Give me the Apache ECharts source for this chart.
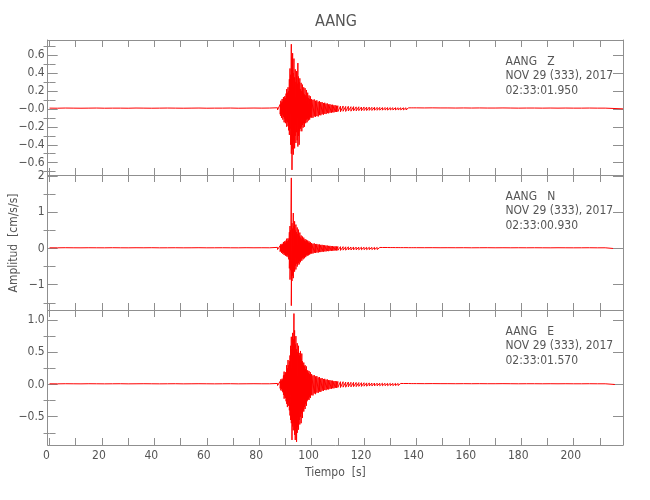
<!DOCTYPE html>
<html>
<head>
<meta charset="utf-8">
<script src="https://cdn.jsdelivr.net/npm/echarts@6/dist/echarts.min.js"></script>
<style>html,body{margin:0;padding:0;background:#fff}#c{width:650px;height:500px}</style>
</head>
<body>
<div id="c"></div>
<script>
// ---------- data (peak max / min per time bin) ----------
const stationTitle = 'AANG';
const compLabels = ['AANG   Z', 'AANG   N', 'AANG   E'];
const dateLabel = 'NOV 29 (333), 2017';
const startTimes = ['02:33:01.950', '02:33:00.930', '02:33:01.570'];
const traceEnd = [218.8, 215.0, 215.7];

const xTickLabels = [0, 20, 40, 60, 80, 100, 120, 140, 160, 180, 200];
const xTickMarks = [0, 10, 20, 30, 40, 50, 60, 70, 80, 90, 100, 110, 120, 130, 140, 150, 160, 170, 180, 190, 200, 210];

const zTicks = [-0.6, -0.4, -0.2, 0, 0.2, 0.4, 0.6];
const zTickText = ['\u22120.6', '\u22120.4', '\u22120.2', '\u22120.0', '0.2', '0.4', '0.6'];
const zMinor = [-0.7, -0.5, -0.3, -0.1, 0.1, 0.3, 0.5, 0.7];
const nTicks = [-1, 0, 1, 2];
const nTickText = ['\u22121', '0', '1', '2'];
const nMinor = [-1.5, -0.5, 0.5, 1.5];
const eTicks = [-0.5, 0, 0.5, 1.0];
const eTickText = ['\u22120.5', '0.0', '0.5', '1.0'];
const eMinor = [-0.75, -0.25, 0.25, 0.75];

const tPre = [0, 3, 6, 9, 12, 15, 18, 21, 24, 27, 30, 33, 36, 39, 42, 45, 48, 51, 54, 57, 60, 63, 66, 69, 72, 75, 78, 81, 84, 87];
const tEvent = [88.0, 88.25, 88.5, 88.75, 89.0, 89.25, 89.5, 89.75, 90.0, 90.25, 90.5, 90.75,
  91.0, 91.25, 91.5, 91.75, 92.0, 92.25, 92.5, 92.75, 93.0, 93.25, 93.5, 93.75,
  94.0, 94.25, 94.5, 94.75, 95.0, 95.25, 95.5, 95.75, 96.0, 96.25, 96.5, 96.75,
  97.0, 97.25, 97.5, 97.75, 98.0, 98.25, 98.5, 98.75, 99.0, 99.25, 99.5, 99.75];
const tCoda1 = [100, 100.5, 101, 101.5, 102, 102.5, 103, 103.5, 104, 104.5, 105, 105.5, 106, 106.5, 107, 107.5, 108, 108.5, 109, 109.5];
const tCoda2 = [110, 111, 112, 113, 114, 115, 116, 117, 118, 119, 120, 121, 122, 123, 124, 125, 126, 127, 128, 129, 130, 131, 132, 133, 134, 135, 136, 137, 138, 139];
const tTail = [140, 143, 146, 149, 152, 155, 158, 161, 164, 167, 170, 173, 176, 179, 182, 185, 188, 191, 194, 197, 200, 203, 206, 209, 212];

// Z component
const zPreHi = [0.008, 0.007, 0.009, 0.008, 0.007, 0.008, 0.009, 0.007, 0.008, 0.008, 0.007, 0.009, 0.008, 0.007, 0.008, 0.009, 0.008, 0.007, 0.008, 0.009, 0.007, 0.008, 0.008, 0.009, 0.007, 0.008, 0.009, 0.008, 0.009, 0.012];
const zPreLo = [-0.008, -0.009, -0.007, -0.008, -0.008, -0.007, -0.009, -0.008, -0.007, -0.009, -0.008, -0.007, -0.008, -0.009, -0.007, -0.008, -0.008, -0.009, -0.007, -0.008, -0.008, -0.009, -0.007, -0.008, -0.009, -0.008, -0.007, -0.009, -0.008, -0.012];
const zEventHi = [0.05, 0.09, 0.07, 0.11, 0.08, 0.13, 0.10, 0.14, 0.12, 0.17, 0.22, 0.18,
  0.24, 0.20, 0.33, 0.45, 0.38, 0.72, 0.58, 0.62, 0.40, 0.56, 0.35, 0.44,
  0.30, 0.42, 0.28, 0.51, 0.36, 0.30, 0.34, 0.22, 0.29, 0.20, 0.27, 0.18,
  0.24, 0.16, 0.23, 0.15, 0.21, 0.13, 0.18, 0.12, 0.15, 0.11, 0.14, 0.10];
const zEventLo = [-0.06, -0.08, -0.10, -0.07, -0.12, -0.09, -0.15, -0.11, -0.16, -0.13, -0.20, -0.15,
  -0.19, -0.24, -0.29, -0.22, -0.40, -0.50, -0.68, -0.45, -0.51, -0.36, -0.44, -0.30,
  -0.38, -0.26, -0.35, -0.42, -0.30, -0.40, -0.25, -0.22, -0.20, -0.25, -0.18, -0.21,
  -0.16, -0.20, -0.14, -0.16, -0.12, -0.15, -0.11, -0.13, -0.10, -0.12, -0.09, -0.10];
const zCoda1Hi = [0.11, 0.10, 0.105, 0.09, 0.095, 0.08, 0.085, 0.075, 0.075, 0.065, 0.068, 0.058, 0.06, 0.05, 0.052, 0.045, 0.046, 0.04, 0.04, 0.035];
const zCoda1Lo = [-0.095, -0.10, -0.085, -0.09, -0.08, -0.085, -0.07, -0.072, -0.06, -0.065, -0.055, -0.058, -0.048, -0.05, -0.042, -0.045, -0.038, -0.04, -0.034, -0.035];
const zCoda2Hi = [0.035, 0.03, 0.032, 0.027, 0.028, 0.024, 0.025, 0.022, 0.023, 0.02, 0.021, 0.019, 0.019, 0.017, 0.018, 0.016, 0.016, 0.015, 0.015, 0.014, 0.014, 0.013, 0.013, 0.012, 0.012, 0.012, 0.012, 0.011, 0.011, 0.011];
const zCoda2Lo = [-0.031, -0.033, -0.027, -0.029, -0.024, -0.026, -0.022, -0.023, -0.02, -0.021, -0.019, -0.019, -0.017, -0.018, -0.016, -0.016, -0.015, -0.015, -0.014, -0.014, -0.013, -0.013, -0.012, -0.012, -0.012, -0.012, -0.011, -0.011, -0.011, -0.011];
const zTailHi = [0.011, 0.010, 0.011, 0.010, 0.010, 0.009, 0.010, 0.009, 0.010, 0.009, 0.009, 0.010, 0.009, 0.008, 0.009, 0.009, 0.008, 0.009, 0.008, 0.009, 0.008, 0.008, 0.009, 0.008, 0.008];
const zTailLo = [-0.010, -0.011, -0.010, -0.010, -0.009, -0.010, -0.009, -0.010, -0.009, -0.009, -0.010, -0.009, -0.008, -0.009, -0.009, -0.008, -0.009, -0.008, -0.009, -0.008, -0.008, -0.009, -0.008, -0.008, -0.008];

// N component
const nPreHi = [0.019, 0.018, 0.021, 0.019, 0.018, 0.02, 0.019, 0.018, 0.021, 0.019, 0.018, 0.02, 0.019, 0.021, 0.018, 0.019, 0.02, 0.018, 0.019, 0.021, 0.018, 0.019, 0.02, 0.019, 0.018, 0.021, 0.019, 0.02, 0.019, 0.03];
const nPreLo = [-0.019, -0.021, -0.018, -0.02, -0.019, -0.018, -0.021, -0.019, -0.018, -0.02, -0.019, -0.021, -0.018, -0.019, -0.02, -0.018, -0.019, -0.021, -0.019, -0.018, -0.02, -0.019, -0.021, -0.018, -0.019, -0.02, -0.018, -0.019, -0.021, -0.03];
const nEventHi = [0.08, 0.12, 0.09, 0.13, 0.11, 0.18, 0.14, 0.20, 0.16, 0.22, 0.27, 0.20,
  0.28, 0.24, 0.45, 0.62, 0.50, 1.95, 0.70, 0.55, 0.98, 0.62, 0.75, 0.50,
  0.66, 0.45, 0.58, 0.40, 0.52, 0.35, 0.44, 0.30, 0.36, 0.27, 0.33, 0.24,
  0.30, 0.22, 0.26, 0.20, 0.24, 0.18, 0.22, 0.16, 0.20, 0.15, 0.18, 0.14];
const nEventLo = [-0.09, -0.07, -0.12, -0.10, -0.15, -0.12, -0.18, -0.14, -0.20, -0.17, -0.22, -0.19,
  -0.24, -0.30, -0.55, -0.86, -0.60, -1.58, -0.90, -0.75, -0.82, -0.60, -0.64, -0.48,
  -0.58, -0.42, -0.50, -0.45, -0.40, -0.44, -0.35, -0.38, -0.30, -0.34, -0.26, -0.30,
  -0.24, -0.27, -0.21, -0.24, -0.18, -0.21, -0.17, -0.19, -0.15, -0.17, -0.13, -0.15];
const nCoda1Hi = [0.15, 0.13, 0.14, 0.12, 0.125, 0.11, 0.11, 0.10, 0.10, 0.09, 0.09, 0.08, 0.08, 0.072, 0.072, 0.065, 0.065, 0.058, 0.058, 0.055];
const nCoda1Lo = [-0.13, -0.14, -0.12, -0.125, -0.11, -0.115, -0.10, -0.10, -0.09, -0.09, -0.08, -0.082, -0.072, -0.075, -0.065, -0.068, -0.06, -0.06, -0.055, -0.055];
const nCoda2Hi = [0.055, 0.05, 0.05, 0.045, 0.046, 0.041, 0.042, 0.038, 0.038, 0.035, 0.035, 0.033, 0.032, 0.031, 0.03, 0.029, 0.028, 0.027, 0.027, 0.026, 0.025, 0.025, 0.024, 0.024, 0.023, 0.023, 0.023, 0.022, 0.022, 0.022];
const nCoda2Lo = [-0.052, -0.054, -0.046, -0.048, -0.042, -0.043, -0.038, -0.039, -0.035, -0.036, -0.033, -0.033, -0.031, -0.031, -0.029, -0.029, -0.027, -0.027, -0.026, -0.026, -0.025, -0.025, -0.024, -0.024, -0.023, -0.023, -0.022, -0.022, -0.022, -0.022];
const nTailHi = [0.022, 0.021, 0.022, 0.02, 0.021, 0.02, 0.021, 0.019, 0.02, 0.021, 0.019, 0.02, 0.019, 0.02, 0.019, 0.02, 0.019, 0.018, 0.02, 0.019, 0.018, 0.019, 0.02, 0.018, 0.019];
const nTailLo = [-0.021, -0.022, -0.02, -0.021, -0.02, -0.021, -0.019, -0.02, -0.021, -0.019, -0.02, -0.019, -0.02, -0.019, -0.02, -0.018, -0.019, -0.02, -0.018, -0.019, -0.019, -0.018, -0.019, -0.019, -0.018];

// E component
const ePreHi = [0.011, 0.01, 0.012, 0.011, 0.01, 0.012, 0.011, 0.01, 0.011, 0.012, 0.01, 0.011, 0.012, 0.011, 0.01, 0.011, 0.012, 0.01, 0.011, 0.012, 0.011, 0.01, 0.011, 0.012, 0.01, 0.011, 0.012, 0.011, 0.011, 0.016];
const ePreLo = [-0.011, -0.012, -0.01, -0.011, -0.012, -0.01, -0.011, -0.012, -0.011, -0.01, -0.011, -0.012, -0.01, -0.011, -0.012, -0.011, -0.01, -0.011, -0.012, -0.011, -0.01, -0.012, -0.011, -0.01, -0.011, -0.012, -0.011, -0.01, -0.012, -0.016];
const eEventHi = [0.05, 0.08, 0.06, 0.09, 0.07, 0.14, 0.20, 0.15, 0.19, 0.16, 0.30, 0.25,
  0.38, 0.30, 0.36, 0.45, 0.60, 0.74, 0.55, 0.80, 0.70, 1.10, 0.84, 0.62,
  0.75, 0.55, 0.64, 0.50, 0.60, 0.49, 0.45, 0.52, 0.40, 0.48, 0.36, 0.30,
  0.34, 0.28, 0.30, 0.24, 0.28, 0.20, 0.22, 0.18, 0.21, 0.16, 0.19, 0.15];
const eEventLo = [-0.06, -0.09, -0.07, -0.10, -0.12, -0.16, -0.22, -0.18, -0.21, -0.26, -0.30, -0.35,
  -0.28, -0.33, -0.40, -0.48, -0.55, -0.60, -0.86, -0.65, -0.71, -0.60, -0.78, -0.86,
  -0.70, -0.89, -0.75, -0.66, -0.70, -0.55, -0.62, -0.50, -0.60, -0.45, -0.52, -0.40,
  -0.42, -0.35, -0.38, -0.30, -0.33, -0.26, -0.24, -0.22, -0.24, -0.19, -0.21, -0.17];
const eCoda1Hi = [0.16, 0.14, 0.145, 0.125, 0.13, 0.11, 0.115, 0.095, 0.10, 0.085, 0.088, 0.075, 0.078, 0.067, 0.068, 0.06, 0.06, 0.053, 0.054, 0.048];
const eCoda1Lo = [-0.16, -0.17, -0.14, -0.15, -0.125, -0.13, -0.11, -0.115, -0.095, -0.10, -0.085, -0.088, -0.075, -0.077, -0.066, -0.068, -0.058, -0.06, -0.052, -0.053];
const eCoda2Hi = [0.048, 0.043, 0.043, 0.038, 0.038, 0.034, 0.034, 0.031, 0.03, 0.028, 0.027, 0.025, 0.025, 0.023, 0.023, 0.021, 0.021, 0.02, 0.019, 0.018, 0.018, 0.017, 0.017, 0.016, 0.016, 0.015, 0.015, 0.015, 0.014, 0.014];
const eCoda2Lo = [-0.046, -0.047, -0.041, -0.042, -0.036, -0.037, -0.033, -0.033, -0.029, -0.03, -0.026, -0.027, -0.024, -0.024, -0.022, -0.022, -0.02, -0.02, -0.019, -0.019, -0.017, -0.018, -0.016, -0.016, -0.015, -0.015, -0.015, -0.014, -0.014, -0.014];
const eTailHi = [0.014, 0.013, 0.014, 0.013, 0.013, 0.012, 0.013, 0.012, 0.013, 0.012, 0.012, 0.013, 0.012, 0.011, 0.012, 0.012, 0.011, 0.012, 0.011, 0.012, 0.011, 0.011, 0.012, 0.011, 0.011];
const eTailLo = [-0.013, -0.014, -0.013, -0.013, -0.012, -0.013, -0.012, -0.013, -0.012, -0.012, -0.013, -0.012, -0.011, -0.012, -0.012, -0.011, -0.012, -0.011, -0.012, -0.011, -0.011, -0.012, -0.011, -0.011, -0.011];

// ---------- build ----------
const tAll = tPre.concat(tEvent, tCoda1, tCoda2, tTail);
const comps = [
  { hi: zPreHi.concat(zEventHi, zCoda1Hi, zCoda2Hi, zTailHi), lo: zPreLo.concat(zEventLo, zCoda1Lo, zCoda2Lo, zTailLo),
    ticks: zTicks, text: zTickText, minor: zMinor, min: -0.737, max: 0.767 },
  { hi: nPreHi.concat(nEventHi, nCoda1Hi, nCoda2Hi, nTailHi), lo: nPreLo.concat(nEventLo, nCoda1Lo, nCoda2Lo, nTailLo),
    ticks: nTicks, text: nTickText, minor: nMinor, min: -1.70, max: 2.03 },
  { hi: ePreHi.concat(eEventHi, eCoda1Hi, eCoda2Hi, eTailHi), lo: ePreLo.concat(eEventLo, eCoda1Lo, eCoda2Lo, eTailLo),
    ticks: eTicks, text: eTickText, minor: eMinor, min: -0.938, max: 1.155 }
];

const FONT = "'Liberation Sans Narrow', 'DejaVu Sans Condensed', 'Liberation Sans', sans-serif";
const AXC = '#8f8f8f';
const TXC = '#555555';
const L = 47.7, W = 575.3, TOP = 40, H = 135;
const XMIN = -0.7, XMAX = 218.8;

const grids = [], xAxes = [], yAxes = [], series = [], graphics = [];
comps.forEach((c, g) => {
  grids.push({ left: L, top: TOP + g * H, width: W, height: H, containLabel: false });
  [ 'bottom', 'top' ].forEach(pos => {
    const showLab = (g === 2 && pos === 'bottom');
    xAxes.push({
      type: 'value', gridIndex: g, position: pos, min: XMIN, max: XMAX,
      axisLine: { show: true, onZero: false, lineStyle: { color: AXC, width: 1 } },
      axisTick: { show: true, inside: true, length: 7, customValues: xTickMarks, lineStyle: { color: AXC } },
      axisLabel: { show: showLab, customValues: xTickLabels, color: TXC, fontFamily: FONT, fontSize: 12, margin: 5, padding: [0, 6, 0, 0] },
      splitLine: { show: false },
      name: showLab ? 'Tiempo  [s]' : '', nameLocation: 'middle', nameGap: 22,
      nameTextStyle: { color: TXC, fontFamily: FONT, fontSize: 12 }
    });
  });
  const fmt = v => { const i = c.ticks.findIndex(t => Math.abs(t - v) < 1e-6); return i >= 0 ? c.text[i] : ''; };
  [ 'left', 'right' ].forEach(pos => {
    yAxes.push({
      type: 'value', gridIndex: g, position: pos, min: c.min, max: c.max,
      axisLine: { show: true, onZero: false, lineStyle: { color: AXC, width: 1 } },
      axisTick: { show: true, inside: true, length: 10, customValues: c.ticks, lineStyle: { color: AXC } },
      axisLabel: { show: pos === 'left', customValues: c.ticks, formatter: fmt, color: TXC, fontFamily: FONT, fontSize: 12, margin: 3 },
      splitLine: { show: false }
    });
    yAxes.push({
      type: 'value', gridIndex: g, position: pos, min: c.min, max: c.max,
      axisLine: { show: false },
      axisTick: { show: true, inside: true, length: 6, customValues: c.minor, lineStyle: { color: AXC } },
      axisLabel: { show: false },
      splitLine: { show: false }
    });
  });
  const data = [];
  tAll.forEach((t, i) => { data.push([t, c.hi[i]]); data.push([t, c.lo[i]]); });
  data.push([traceEnd[g], 0]);
  series.push({
    type: 'line', xAxisIndex: 2 * g, yAxisIndex: 4 * g, data: data,
    showSymbol: false, symbol: 'none', sampling: null, clip: false, animation: false,
    lineStyle: { color: '#ff0000', width: 1 }, z: 3
  });
  const top = TOP + g * H;
  [compLabels[g], dateLabel, startTimes[g]].forEach((s, k) => {
    graphics.push({ type: 'text', x: 505.5, y: top + [21.5, 35.5, 50.5][k], silent: true,
      style: { text: s, fill: TXC, font: '12px ' + FONT, textAlign: 'left', textVerticalAlign: 'middle' } });
  });
});
graphics.push({ type: 'text', x: 336, y: 22, silent: true,
  style: { text: stationTitle, fill: TXC, font: '16px ' + FONT, textAlign: 'center', textVerticalAlign: 'middle' } });
graphics.push({ type: 'text', x: 14, y: 243, rotation: Math.PI / 2, silent: true,
  style: { text: 'Amplitud  [cm/s/s]', fill: TXC, font: '12px ' + FONT, textAlign: 'center', textVerticalAlign: 'middle' } });

const chart = echarts.init(document.getElementById('c'), null, { renderer: 'canvas' });
chart.setOption({
  animation: false,
  backgroundColor: '#ffffff',
  grid: grids, xAxis: xAxes, yAxis: yAxes, series: series, graphic: graphics
});
</script>
</body>
</html>
